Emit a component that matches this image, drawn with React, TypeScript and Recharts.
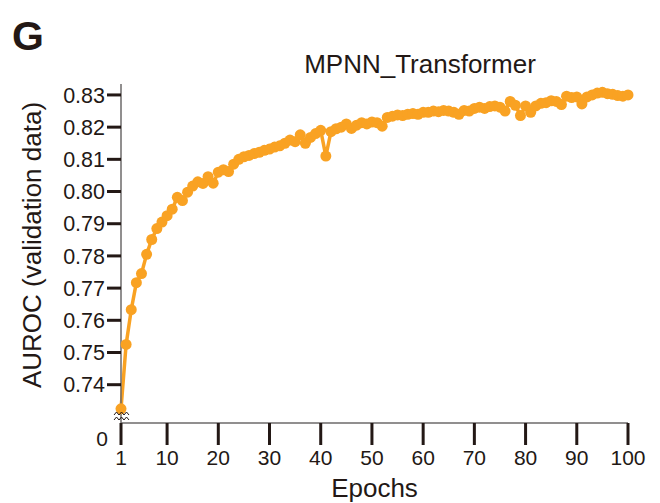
import { LineChart, Line, XAxis, YAxis } from 'recharts';

// AUROC on validation data, one value per epoch (1..100)
const AUROC = [
  0.7325, 0.7525, 0.7633, 0.7717, 0.7745, 0.7805, 0.7851, 0.7885, 0.7905, 0.7925,
  0.7945, 0.7982, 0.7972, 0.7998, 0.8017, 0.803, 0.8025, 0.8046, 0.8026, 0.806,
  0.8068, 0.8062, 0.8085, 0.81, 0.8108, 0.8112, 0.8118, 0.8122, 0.8128, 0.8132,
  0.8138, 0.8142, 0.815, 0.816, 0.8155, 0.8176, 0.815, 0.8168, 0.818, 0.819,
  0.811, 0.8186, 0.8195, 0.82, 0.821, 0.8196, 0.8206, 0.8214, 0.821, 0.8216,
  0.8214, 0.8203, 0.823, 0.8234, 0.8238, 0.8236, 0.824, 0.8242, 0.824, 0.8246,
  0.8246, 0.825, 0.8248, 0.8252, 0.825, 0.8246, 0.824, 0.8252, 0.825, 0.8258,
  0.8262, 0.8258, 0.8264, 0.8266, 0.8262, 0.825, 0.828, 0.8268, 0.8236, 0.8266,
  0.8246, 0.8266, 0.8274, 0.8276, 0.8282, 0.828, 0.827, 0.8296, 0.8292, 0.8294,
  0.8272, 0.8294, 0.83, 0.8306, 0.8308, 0.8304, 0.8302, 0.8298, 0.8296, 0.83,
];
const X_TICKS = [1, 10, 20, 30, 40, 50, 60, 70, 80, 90, 100];
const Y_TICKS = [0.74, 0.75, 0.76, 0.77, 0.78, 0.79, 0.8, 0.81, 0.82, 0.83];

const ORANGE = '#F9A223';
const INK = '#231815';
const AXIS = '#6d6a6a';
const FONT = '"Liberation Sans", Arial, sans-serif';

const data = AUROC.map((v, i) => ({ epoch: i + 1, auroc: v }));

export default function App() {
  return (
    <div style={{ position: 'absolute', left: 0, top: 0, width: 660, height: 503, background: '#fff', fontFamily: FONT }}>
      <LineChart width={660} height={503} data={data} margin={{ top: 84, right: 32, bottom: 0, left: 0 }}>
        <XAxis
          dataKey="epoch"
          type="number"
          domain={[1, 100]}
          ticks={X_TICKS}
          height={80}
          tickSize={22}
          tickMargin={5}
          axisLine={{ stroke: AXIS, strokeWidth: 1.5 }}
          tickLine={{ stroke: INK, strokeWidth: 3 }}
          tick={{ fontSize: 21, fill: INK, fontFamily: FONT }}
          label={{ value: 'Epochs', position: 'insideBottom', offset: 6, style: { fontSize: 26, fill: INK, fontFamily: FONT } }}
        />
        <YAxis
          type="number"
          domain={[0.7281, 0.8334]}
          ticks={Y_TICKS}
          width={121}
          tickSize={14}
          tickMargin={2}
          allowDataOverflow
          axisLine={{ stroke: AXIS, strokeWidth: 1.5 }}
          tickLine={{ stroke: INK, strokeWidth: 3 }}
          tick={{ fontSize: 21.5, fill: INK, fontFamily: FONT }}
          tickFormatter={(v: number) => v.toFixed(2)}
        />
        <Line
          type="linear"
          dataKey="auroc"
          stroke={ORANGE}
          strokeWidth={3.5}
          dot={{ r: 5.5, fill: ORANGE, stroke: 'none' }}
          isAnimationActive={false}
        />
      </LineChart>
      <svg width={660} height={503} style={{ position: 'absolute', left: 0, top: 0, pointerEvents: 'none' }}>
        <text x={12} y={50} fontSize={41} fontWeight="bold" fill={INK} fontFamily={FONT}>G</text>
        <text x={420} y={73} fontSize={26} fill={INK} fontFamily={FONT} textAnchor="middle">MPNN_Transformer</text>
        <text transform="translate(41,245) rotate(-90)" fontSize={26} fill={INK} fontFamily={FONT} textAnchor="middle">
          AUROC (validation data)
        </text>
        <text x={108} y={446} fontSize={21} fill={INK} fontFamily={FONT} textAnchor="end">0</text>
        <path d="M114,415 l2.5,-3 l2.5,3 l2.5,-3 l2.5,3 l2.5,-3 l2.5,3" fill="none" stroke={INK} strokeWidth={1} />
        <path d="M114,420 l2.5,-3 l2.5,3 l2.5,-3 l2.5,3 l2.5,-3 l2.5,3" fill="none" stroke={INK} strokeWidth={1} />
      </svg>
    </div>
  );
}
